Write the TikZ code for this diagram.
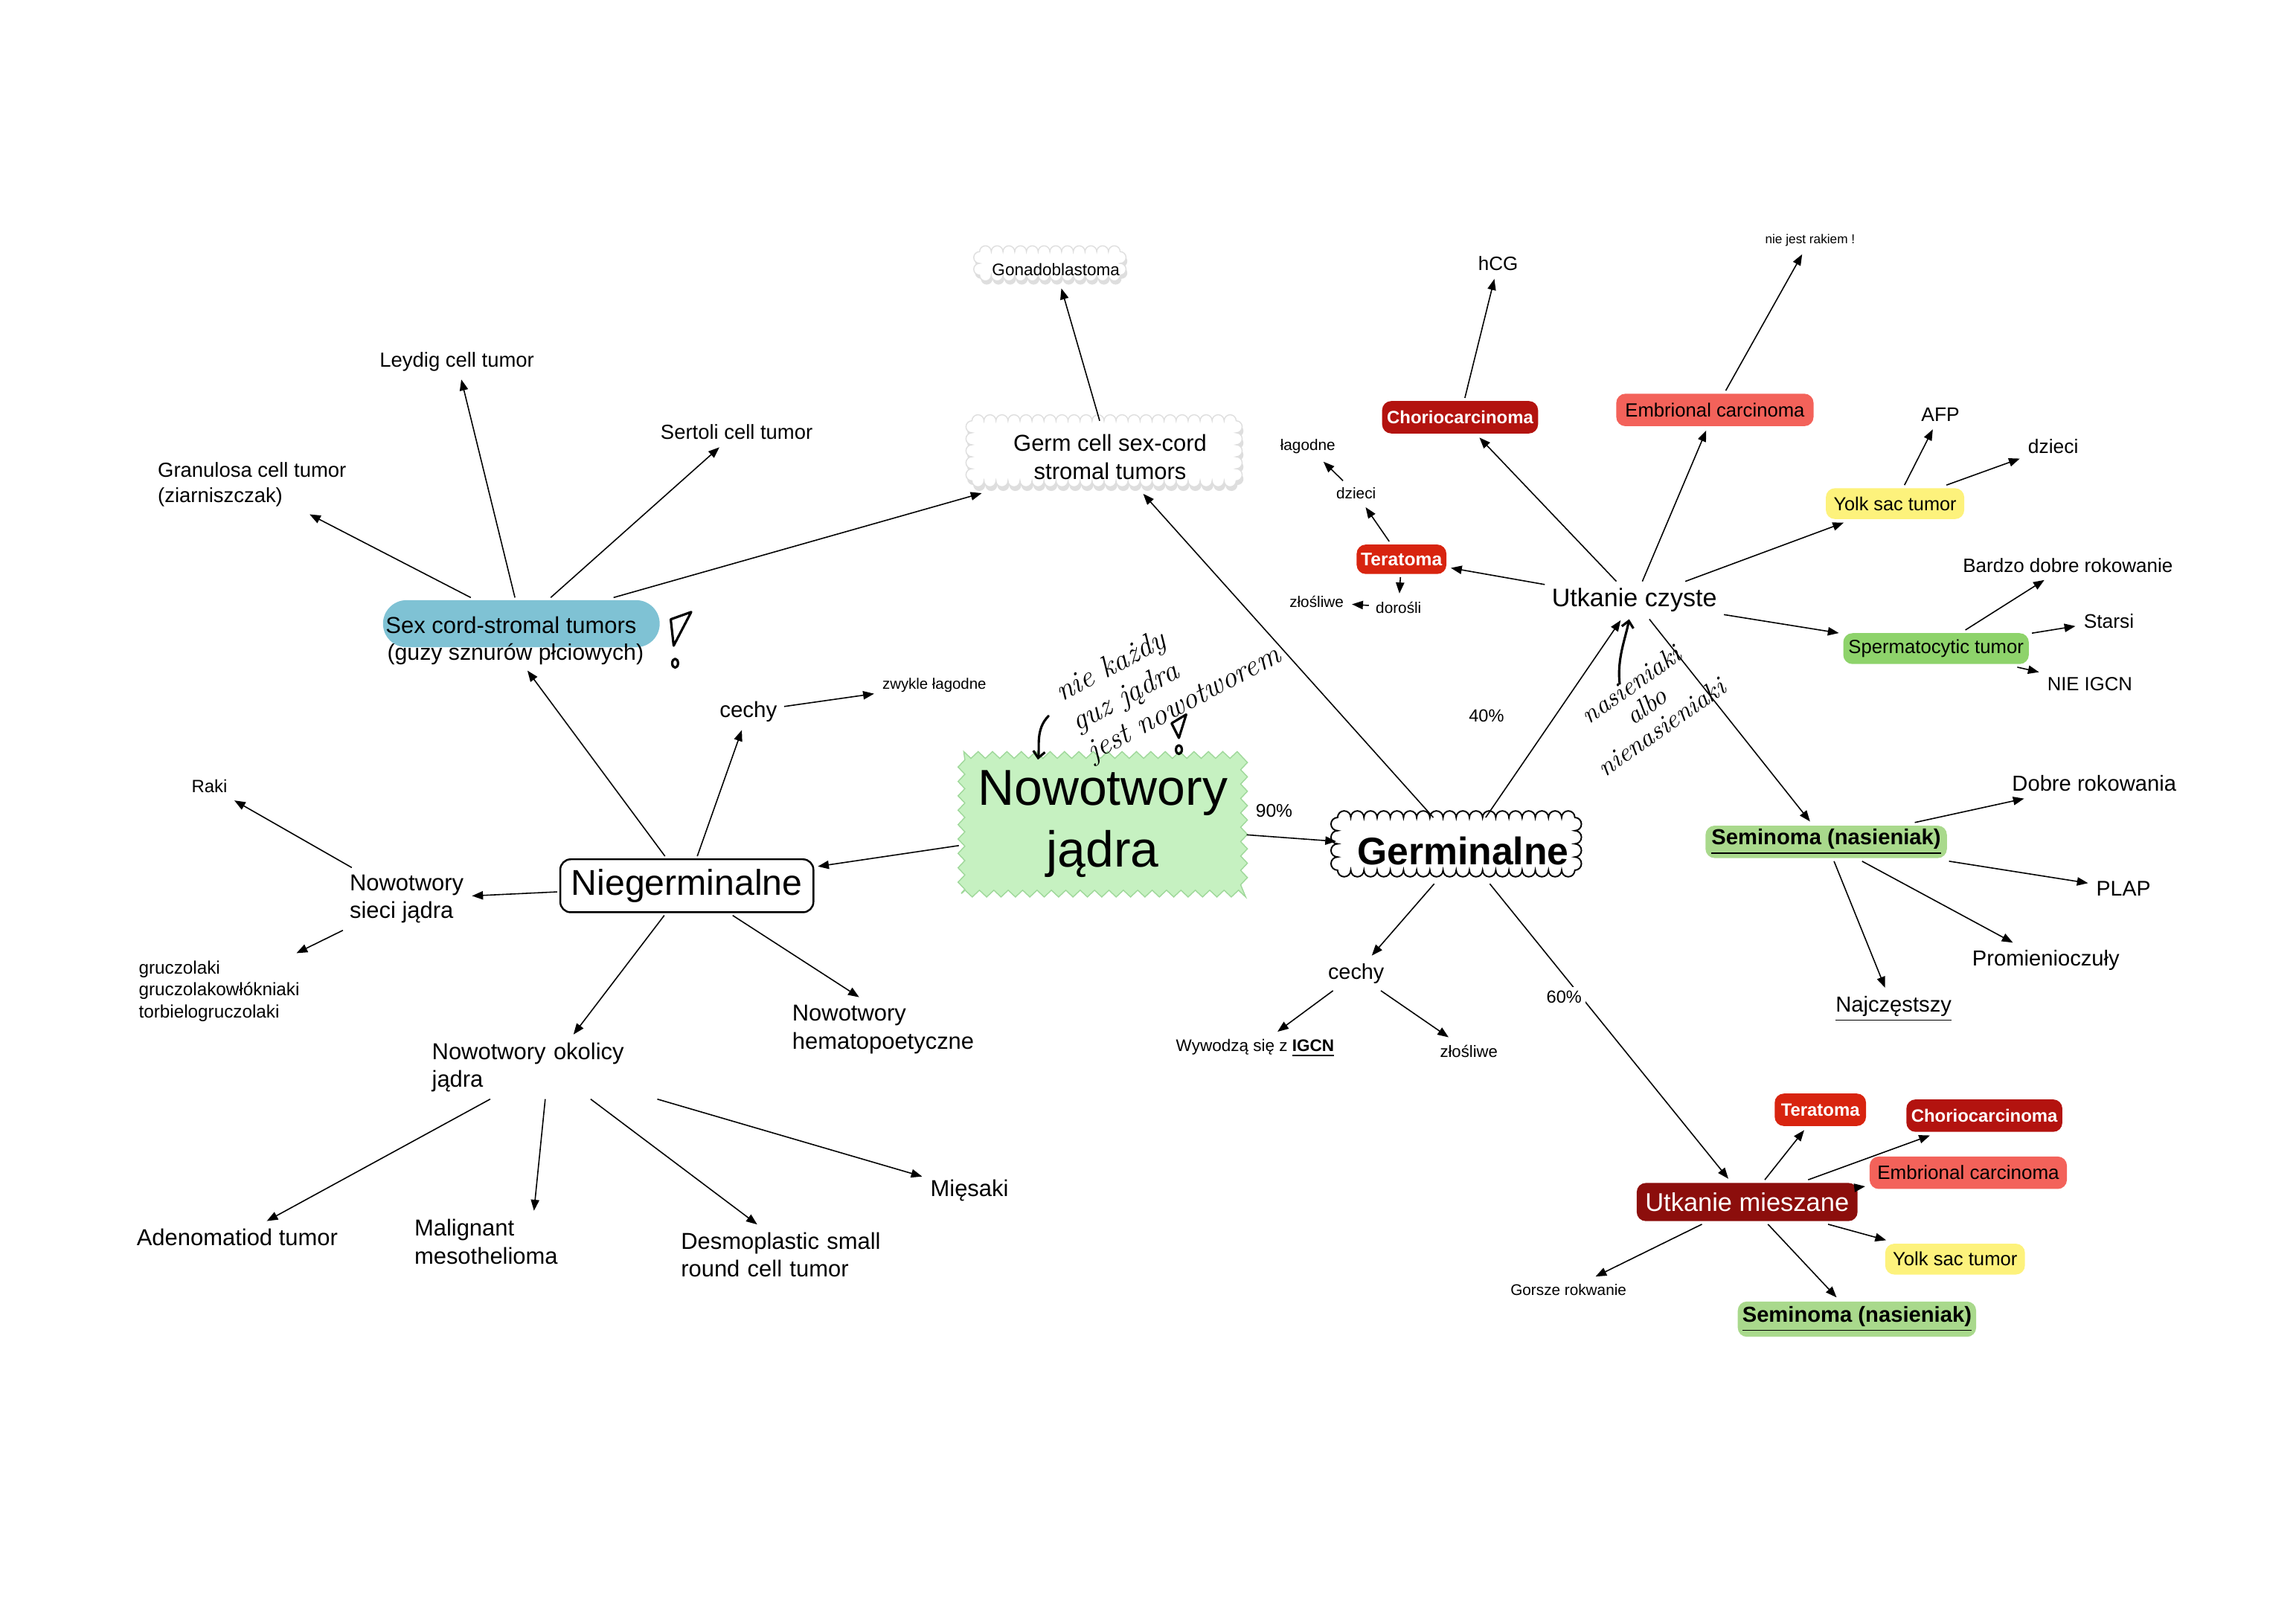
\documentclass[tikz,border=0pt]{standalone}
\usepackage{fontspec}
\setsansfont{Liberation Sans}
\usetikzlibrary{arrows.meta,decorations.pathmorphing,calc,backgrounds}
\definecolor{scblue}{HTML}{7FC2D4}
\definecolor{nowogreen}{HTML}{C6F1C1}
\definecolor{nowoedge}{HTML}{9FD89A}
\definecolor{terared}{HTML}{D8240F}
\definecolor{chorired}{HTML}{B3130F}
\definecolor{embrred}{HTML}{F3625A}
\definecolor{yolkyel}{HTML}{FDF27C}
\definecolor{spermgreen}{HTML}{8ED36B}
\definecolor{semigreen}{HTML}{A9D98C}
\definecolor{mieszred}{HTML}{8C0E0C}
% scalloped closed outline starting at the north-west corner of a node:
% #1 start coordinate, #2 bumps along the width, #3 bumps along the height, #4 bump radius
\newcommand\scallops[4]{#1
  foreach \i in {1,...,#2} {arc[start angle=180,end angle=360,radius=#4]}
  foreach \i in {1,...,#3} {arc[start angle=270,end angle=450,radius=#4]}
  foreach \i in {1,...,#2} {arc[start angle=0,end angle=180,radius=#4]}
  foreach \i in {1,...,#3} {arc[start angle=90,end angle=270,radius=#4]} -- cycle}
\tikzset{
  fs/.style 2 args={font=\sffamily\fontsize{#1}{#2}\selectfont},
  fsb/.style 2 args={font=\sffamily\bfseries\fontsize{#1}{#2}\selectfont},
  txt/.style={inner sep=2.5pt, align=center, text=black},
  wtxt/.style={inner sep=2.5pt, align=left, text width=89pt, text=black},
  arr/.style={-{Triangle[length=4.2pt,width=3.2pt]}, line width=0.45pt, shorten >=0.5pt},
  tbox/.style={rounded corners=3.5pt, inner sep=0pt, outer sep=1.2pt},
  scbox/.style={fill=scblue, rounded corners=9pt, minimum width=105.75pt, minimum height=18pt, inner sep=0pt, outer sep=1pt},
  cloudnode/.style={inner sep=0pt, outer sep=2.3pt, align=center},
  cloudline/.style={draw=black!13, line width=0.4pt, fill=white},
  cloudshadow/.style={fill=black!13},
  germnode/.style={minimum width=90.67pt, minimum height=20.15pt, inner sep=0pt, outer sep=2.6pt,
     font=\sffamily\bfseries\fontsize{14.7}{16}\selectfont},
  germline/.style={draw=black, line width=0.55pt, fill=white},
  nowobox/.style={draw=nowoedge, fill=nowogreen, decorate, decoration={zigzag, segment length=5.5pt, amplitude=1.3pt},
     minimum width=108pt, minimum height=53pt, inner sep=0pt, outer sep=1pt, align=center, font=\sffamily\fontsize{19.3}{23.6}\selectfont},
  niegbox/.style={draw=black, line width=0.7pt, rounded corners=4pt, minimum width=96.75pt, minimum height=20.25pt,
     inner sep=0pt, outer sep=1.2pt, font=\sffamily\fontsize{13.7}{16}\selectfont},
  hand/.style={inner sep=0pt, text=black},
  handline/.style={line width=0.9pt, line cap=round, line join=round},
}
\begin{document}
\begin{tikzpicture}[x=0.5597pt, y=-0.5597pt]
\useasboundingbox (0,0) rectangle (1567.8,1108.5);

% ---- Sex cord-stromal group
\node[scbox] (sc) at (356,426) {};
\node[txt, fs={8.8}{10.7}, inner sep=0pt] (sct) at (349,427) {Sex cord-stromal tumors};
\node[txt, fs={8.6}{10.5}, inner sep=1.5pt] (scs) at (352,447) {(guzy sznurów płciowych)};
\node[txt, fs={7.8}{9.6}] (leydig) at (312,247) {Leydig cell tumor};
\node[txt, fs={7.8}{9.6}] (sertoli) at (503,295) {Sertoli cell tumor};
\node[txt, fs={7.8}{9.6}, align=left, anchor=west] (gran) at (103,331) {Granulosa cell tumor\\(ziarniszczak)};

% ---- Germ cell sex-cord (scalloped boxes)
\node[cloudnode, fs={8.8}{10.7}, minimum width=100.97pt, minimum height=22.95pt] (germcell) at (758,312) {Germ cell sex-cord\\stromal tumors};
\node[cloudnode, fs={6.4}{7.7}, minimum width=53.73pt, minimum height=8.955pt] (gonado) at (721,184) {Gonadoblastoma};
\begin{scope}[on background layer]
  \path[cloudshadow] \scallops{([xshift=0.5pt,yshift=-1.6pt]germcell.north west)}{22}{5}{4.1};
  \path[cloudline] \scallops{(germcell.north west)}{22}{5}{4.1};
  \path[cloudshadow] \scallops{([xshift=0.5pt,yshift=-1.4pt]gonado.north west)}{12}{2}{4};
  \path[cloudline] \scallops{(gonado.north west)}{12}{2}{4};
\end{scope}

% ---- centre
\node[txt, fs={8.4}{10}] (cechy1) at (511,486) {cechy};
\node[txt, fs={5.8}{7}] (zwykle) at (638,468) {zwykle łagodne};
\node[nowobox] (nowo) at (753,563) {Nowotwory\\jądra};
\node[txt, fs={7}{8}] (p90) at (870,554) {90\%};
\node[germnode] (germ) at (999,581) {Germinalne};
\begin{scope}[on background layer]
  \path[germline] \scallops{(germ.north west)}{18}{4}{4.5};
\end{scope}
\node[niegbox] (nieg) at (469,605) {Niegerminalne};

% ---- Niegerminalne children
\node[txt, fs={8.8}{10.7}, align=left, anchor=west] (siec) at (234,614) {Nowotwory\\sieci jądra};
\node[txt, fs={6.8}{8}] (raki) at (143,537) {Raki};
\node[txt, fs={6.9}{8.4}, align=left, anchor=west] (grucz) at (90,677) {gruczolaki\\gruczolakowłókniaki\\torbielogruczolaki};
\node[wtxt, fs={8.8}{10.7}] (okol) at (374.5,729) {Nowotwory okolicy\\jądra};
\node[wtxt, fs={8.8}{10.7}] (hemat) at (620.5,703) {Nowotwory\\hematopoetyczne};
\node[txt, fs={8.8}{10.7}] (adeno) at (162,845) {Adenomatiod tumor};
\node[wtxt, fs={8.8}{10.7}] (malig) at (362.5,848) {Malignant\\mesothelioma};
\node[wtxt, fs={8.8}{10.7}] (desmo) at (544.5,857) {Desmoplastic small\\round cell tumor};
\node[txt, fs={8.8}{10.7}] (miesaki) at (662,813) {Mięsaki};

% ---- Germinalne children
\node[txt, fs={8.2}{10}] (cechy2) at (926,665) {cechy};
\node[txt, fs={6.4}{7.7}] (wyw) at (857,716) {Wywodzą się z \textbf{\underline{IGCN}}};
\node[txt, fs={6.3}{7.6}] (zlo2) at (1003,718) {złośliwe};
\node[txt, fs={6.7}{8}] (p40) at (1015,489) {40\%};
\node[txt, fs={9.7}{11.6}] (czyste) at (1116,410) {Utkanie czyste};

% ---- Utkanie czyste children
\node[tbox, fill=terared, text=white, fsb={7}{8}, minimum width=34.3pt, minimum height=11.25pt] (tera1) at (957,382) {Teratoma};
\node[txt, fs={5.9}{7}] (dzieci1) at (926,337) {dzieci};
\node[txt, fs={5.9}{7}] (lagod) at (893,305) {łagodne};
\node[txt, fs={5.9}{7}] (dorosli) at (955,415) {dorośli};
\node[txt, fs={5.9}{7}] (zlo1) at (899,411) {złośliwe};
\node[tbox, fill=chorired, text=white, fsb={6.8}{8}, minimum width=59.6pt, minimum height=12.4pt] (chorio1) at (997,285) {Choriocarcinoma};
\node[txt, fs={7.4}{9}] (hcg) at (1023,180) {hCG};
\node[tbox, fill=embrred, text=black, fs={7.3}{8.8}, minimum width=75.4pt, minimum height=12.4pt] (embr1) at (1171,280) {Embrional carcinoma};
\node[txt, fs={4.9}{6}] (niejest) at (1236,164) {nie jest rakiem !};
\node[tbox, fill=yolkyel, fs={7.2}{8.6}, minimum width=52.9pt, minimum height=11.8pt] (yolk1) at (1294,344) {Yolk sac tumor};
\node[txt, fs={7.5}{9}] (afp) at (1325,283) {AFP};
\node[txt, fs={7.5}{9}] (dzieci2) at (1402,305) {dzieci};
\node[tbox, fill=spermgreen, fs={7.3}{8.8}, minimum width=70.9pt, minimum height=11.8pt] (sperm) at (1322,443) {Spermatocytic tumor};
\node[txt, fs={7.4}{9}] (bardzo) at (1412,386) {Bardzo dobre rokowanie};
\node[txt, fs={7.5}{9}] (starsi) at (1440,424) {Starsi};
\node[txt, fs={7.3}{9}] (nieigcn) at (1427,467) {NIE IGCN};
\node[tbox, fill=semigreen, fsb={8.3}{10}, minimum width=92.25pt, minimum height=12.4pt] (semi1) at (1247,575) {\underline{Seminoma (nasieniak)}};
\node[txt, fs={8.3}{10}] (dobre) at (1430,535) {Dobre rokowania};
\node[txt, fs={8.1}{10}] (plap) at (1450,607) {PLAP};
\node[txt, fs={8.3}{10}] (promien) at (1397,656) {Promienioczuły};
\node[txt, fs={8.3}{10}] (najcz) at (1293,689) {\underline{Najczęstszy}};

% ---- Utkanie mieszane
\node[tbox, fill=mieszred, text=white, fs={9.8}{11.8}, minimum width=84.4pt, minimum height=14.6pt] (miesz) at (1193,821) {Utkanie mieszane};
\node[tbox, fill=terared, text=white, fsb={6.8}{8}, minimum width=34.9pt, minimum height=12.4pt] (tera2) at (1243,758) {Teratoma};
\node[tbox, fill=chorired, text=white, fsb={6.8}{8}, minimum width=59.6pt, minimum height=12.4pt] (chorio2) at (1355,762) {Choriocarcinoma};
\node[tbox, fill=embrred, text=black, fs={7.4}{9}, minimum width=75.4pt, minimum height=12.4pt] (embr2) at (1344,801) {Embrional carcinoma};
\node[tbox, fill=yolkyel, fs={7.3}{8.8}, minimum width=53.4pt, minimum height=11.8pt] (yolk2) at (1335,860) {Yolk sac tumor};
\node[tbox, fill=semigreen, fsb={8.3}{10}, minimum width=91.1pt, minimum height=13.5pt] (semi2) at (1268,901) {\underline{Seminoma (nasieniak)}};
\node[txt, fs={5.9}{7}] (gorsze) at (1071,881) {Gorsze rokwanie};

% ---- connectors
\draw[arr] (sc) -- (germcell);
\draw[arr] (sc) -- (leydig);
\draw[arr] (sc) -- (sertoli);
\draw[arr] (sc) -- (gran);
\draw[arr] (germcell) -- (gonado);
\draw[arr] (germ) -- (germcell);
\draw[arr] (nieg) -- (scs);
\draw[arr] (nieg) -- (cechy1);
\draw[arr] (cechy1) -- (zwykle);
\draw[arr] (nowo) -- (nieg);
\draw[arr] (nowo) -- (germ);
\draw[arr] (nieg) -- (siec);
\draw[arr] (siec) -- (raki);
\draw[arr] (siec) -- (grucz);
\draw[arr] (nieg) -- (okol);
\draw[arr] (nieg) -- (hemat);
\draw[arr] (okol) -- (adeno);
\draw[arr] (okol) -- (malig);
\draw[arr] (okol) -- (desmo);
\draw[arr] (okol) -- (miesaki);
\draw[arr] (germ) -- (cechy2);
\draw[arr] (cechy2) -- (wyw);
\draw[arr] (cechy2) -- (zlo2);
\draw[arr] (germ) -- (czyste);
\draw[arr] (germ) -- (miesz);
\draw[arr] (czyste) -- (tera1);
\draw[arr] (czyste) -- (chorio1);
\draw[arr] (czyste) -- (embr1);
\draw[arr] (czyste) -- (yolk1);
\draw[arr] (czyste) -- (sperm);
\draw[arr] (czyste) -- (semi1);
\draw[arr] (tera1) -- (dzieci1);
\draw[arr] (dzieci1) -- (lagod);
\draw[arr] (tera1) -- (dorosli);
\draw[arr] (dorosli) -- (zlo1);
\draw[arr] (chorio1) -- (hcg);
\draw[arr] (embr1) -- (niejest);
\draw[arr] (yolk1) -- (afp);
\draw[arr] (yolk1) -- (dzieci2);
\draw[arr] (sperm) -- (bardzo);
\draw[arr] (sperm) -- (starsi);
\draw[arr] (sperm) -- (nieigcn);
\draw[arr] (semi1) -- (dobre);
\draw[arr] (semi1) -- (plap);
\draw[arr] (semi1) -- (promien);
\draw[arr] (semi1) -- (najcz);
\draw[arr] (miesz) -- (tera2);
\draw[arr] (miesz) -- (chorio2);
\draw[arr] (miesz) -- (embr2);
\draw[arr] (miesz) -- (yolk2);
\draw[arr] (miesz) -- (semi2);
\draw[arr] (miesz) -- (gorsze);
\node[txt, fs={6.7}{8}, fill=white, inner sep=1.5pt] (p60) at (1068,681) {60\%};

% ---- handwritten notes
\node[hand, rotate=28, align=left, font=\rmfamily\itshape\fontsize{11.5}{12.8}\selectfont] (hw1) at (798,461) {nie każdy\\guz jądra\\jest nowotworem};
\coordinate (hw1s) at (716,489);
\draw[handline, -{Straight Barb[length=2.5pt,width=4.5pt]}] (hw1s) .. controls (707,498) and (710,510) .. ($(nowo.north west)+(54,5)$);
\draw[handline] (800,494) -- (810,488) -- (805,504) -- cycle;
\draw[handline] (805,512) ellipse [x radius=2, y radius=3];

\node[hand, rotate=35, align=center, font=\rmfamily\itshape\fontsize{10}{10}\selectfont] (hw2) at (1124,482) {nasieniaki\\albo\\nienasieniaki};
\coordinate (hw2s) at (1106,467);
\draw[handline, -{Straight Barb[length=2.5pt,width=4.5pt]}] (hw2s) .. controls (1104,450) and (1110,436) .. ([xshift=-2pt]czyste.south);

\draw[handline] (458,423) -- (472,418) -- (460,441) -- cycle;
\draw[handline] (461,453) ellipse [x radius=2, y radius=3];
\end{tikzpicture}
\end{document}
